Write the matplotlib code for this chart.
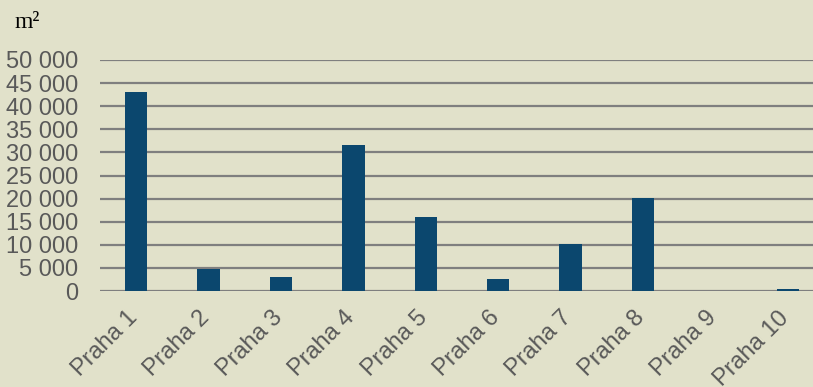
import matplotlib.pyplot as plt
import matplotlib.transforms as mtransforms
import numpy as np

# Data
districts = ["Praha 1", "Praha 2", "Praha 3", "Praha 4", "Praha 5",
             "Praha 6", "Praha 7", "Praha 8", "Praha 9", "Praha 10"]
area_m2 = [43000, 4700, 3000, 31600, 16000, 2600, 10100, 20100, 0, 500]
yticks = [0, 5000, 10000, 15000, 20000, 25000, 30000, 35000, 40000, 45000, 50000]
ytick_labels = ["0" if v == 0 else f"{v:,}".replace(",", " ") for v in yticks]

bg = "#E1E1CA"
fig = plt.figure(figsize=(8.13, 3.87), dpi=100, facecolor=bg)
W, H = 813, 387
ax = fig.add_axes([100 / W, (H - 291) / H, 724 / W, 231 / H])
ax.set_facecolor(bg)

x = np.arange(len(districts))
ax.bar(x, area_m2, width=0.31, color="#0B476E", zorder=3)

ax.set_xlim(-0.5, len(districts) - 0.5)
ax.set_ylim(0, 50000)
ax.set_yticks(yticks)
ax.set_yticklabels(ytick_labels)
ax.yaxis.grid(True, color="#7F7F7F", linewidth=1.6, zorder=0)
ax.set_axisbelow(True)
ax.set_xticks(x)
ax.set_xticklabels(districts, rotation=45, ha="right", va="center",
                   rotation_mode="anchor")
for s in ax.spines.values():
    s.set_visible(False)
ax.tick_params(axis="both", length=0, labelsize=17, labelcolor="#595959")
ax.tick_params(axis="y", pad=16)
ax.tick_params(axis="x", pad=17)
shift = mtransforms.ScaledTranslation(-2 / 100, 0, fig.dpi_scale_trans)
for lbl in ax.get_xticklabels():
    lbl.set_transform(lbl.get_transform() + shift)
for lbl in ax.get_xticklabels() + ax.get_yticklabels():
    lbl.set_fontfamily("Liberation Sans")

fig.text(14 / W, 1 - 22 / H, "m²", fontsize=17, family="Liberation Serif",
         color="black", va="center")

plt.savefig("out.png", dpi=100, facecolor=bg)
